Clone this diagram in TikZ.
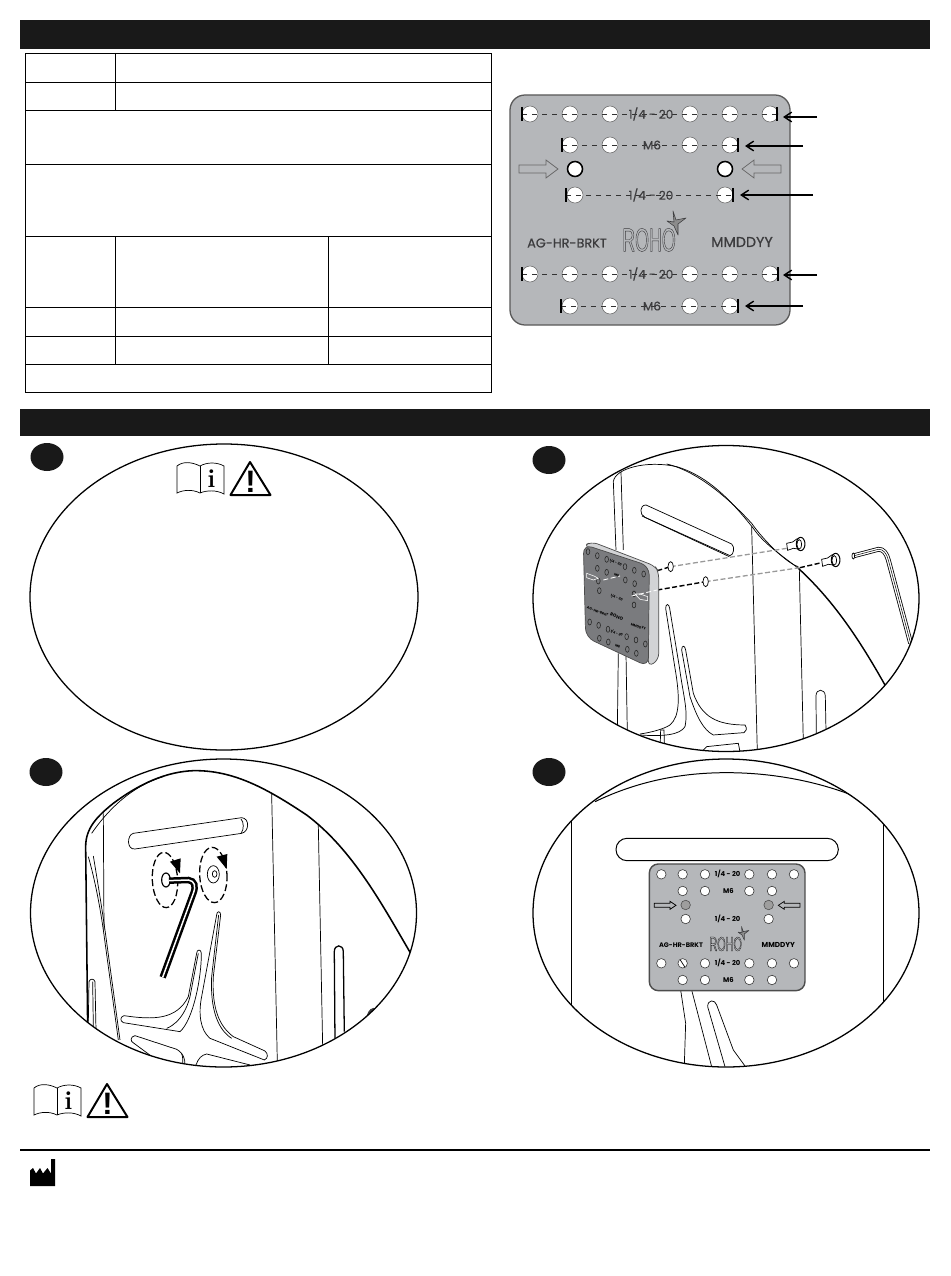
\documentclass[tikz,border=0pt]{standalone}
\usepackage{fontspec}
\usepackage{xcolor}
\usetikzlibrary{arrows.meta,calc,positioning}
\newfontfamily\platefont{Poppins}
\newfontfamily\platemid[FakeBold=0.6]{Poppins}
\newfontfamily\signfont{Liberation Sans}
\newfontfamily\rohofont[FakeStretch=0.54]{Liberation Sans}
\newcommand{\rohotext}[2]{{\rohofont\fontsize{#1}{#1}\selectfont\special{pdf:code q 1 Tr #2 w}ROHO\special{pdf:code 0 Tr Q}}}
\definecolor{plategrey}{HTML}{B5B7BA}
\definecolor{platedark}{HTML}{7A7B7E}
\definecolor{plateside}{HTML}{D2D3D5}
\definecolor{inkgrey}{HTML}{3C3C3E}
\tikzset{>=latex}
\tikzset{
  headbar/.style={fill=black!90},
  badge/.style={fill=black!90},
  cutout/.style={line width=0.45mm},
  thinline/.style={line width=0.25mm},
  hole/.style={circle,draw=black!60,fill=white,line width=0.2mm,inner sep=0pt,minimum size=#1},
  platearrow/.style={-{Straight Barb[length=2.6mm,width=3.4mm]},line width=0.5mm},
  dimline/.style={dash pattern=on 5pt off 5pt,line width=0.25mm,black!80},
  zoomed/.style={x=0.3333pt,y=-0.3333pt},
  pics/rohostar/.style={code={
    \draw[draw=inkgrey,fill=black!45,line width=0.2mm,line join=round] (-2,-12) -- (1,-3) -- (11,-5) -- (3,1) -- (3,12) -- (-1,3) -- (-8,-2) -- (-1,-1) -- cycle;
  }},
  pics/bookwarn/.style={code={
    \draw[line width=0.25mm] (0,5) .. controls (6,0) and (15,1) .. (23,5) .. controls (30,1) and (40,1) .. (47,5)
      -- (47,33) .. controls (40,29) and (30,29) .. (23,32) .. controls (15,28) and (6,29) .. (0,32) -- cycle;
    \draw[line width=0.25mm] (23,5) -- (23,32);
    \node[font=\rmfamily\bfseries\fontsize{26}{26}\selectfont,inner sep=0pt] (#1i) at (34.5,17.5) {i};
    \draw[line width=0.7mm,line join=round] (73,1) -- (93.5,34) -- (53.5,34) -- cycle;
    \node[font=\signfont\bfseries\fontsize{31}{31}\selectfont,inner sep=0pt] (#1mark) at (73.5,21) {!};
  }}
}
\begin{document}
\begin{tikzpicture}[x=1pt,y=-1pt]
\useasboundingbox[fill=white] (0,0) rectangle (950,1276);

\fill[headbar] (20,20) rectangle (930,49);
\fill[headbar] (20,409) rectangle (930,436);

% table
\draw[thinline] (25,53) rectangle (491,392);
\foreach \yy in {82,110,164,236,307,336,364}
  \draw[thinline] (25,\yy) -- (491,\yy);
\draw[thinline] (115,53) -- (115,110);
\draw[thinline] (115,236) -- (115,364);
\draw[thinline] (328,236) -- (328,364);

% plate
\draw[fill=plategrey,draw=black!65,line width=0.45mm,rounded corners=15pt] (510,95) rectangle (790,325);
\foreach \row/\yy/\list in {a/114/{530,570,610,690,730,770},b/145/{570,610,690,730},c/195/{575,725},d/274/{530,570,610,690,730,770},e/306/{570,610,690,730}}
  \foreach \xx in \list
    \node[hole=16pt] (hole\row\xx) at (\xx,\yy) {};
\node[hole=15pt,draw=black,line width=0.55mm] (pinL) at (575,169) {};
\node[hole=15pt,draw=black,line width=0.55mm] (pinR) at (725,169) {};
\foreach \row/\xa/\xb/\yy/\tailx/\tipx/\ya in {a/522/777/114/817/783/117,b/562/738/145/803/745/146,c/566/733/195/813/740/195,d/522/778/274/817/783/275,e/561/738/306/803/745/306}{
  \coordinate (start\row) at (\xa,\yy);
  \coordinate (stop\row) at (\xb,\yy);
  \draw[dimline] (start\row) -- (stop\row);
  \draw[line width=0.45mm] ($(start\row)+(0,-7)$) -- ($(start\row)+(0,7)$);
  \draw[line width=0.45mm] ($(stop\row)+(0,-7)$) -- ($(stop\row)+(0,7)$);
  \coordinate (tail\row) at (\tailx,\ya);
  \coordinate (tip\row) at (\tipx,\ya);
  \draw[platearrow] (tail\row) -- (tip\row);
}
\node[font=\platemid\fontsize{12}{12}\selectfont,text=inkgrey,inner sep=0pt] (labela) at (651,114) {1/4 - 20};
\node[font=\platemid\fontsize{12}{12}\selectfont,text=inkgrey,inner sep=0pt] (labelb) at (652,145) {M6};
\node[font=\platemid\fontsize{12}{12}\selectfont,text=inkgrey,inner sep=0pt] (labelc) at (651,195) {1/4 - 20};
\node[font=\platemid\fontsize{12}{12}\selectfont,text=inkgrey,inner sep=0pt] (labeld) at (651,274) {1/4 - 20};
\node[font=\platemid\fontsize{12}{12}\selectfont,text=inkgrey,inner sep=0pt] (labele) at (652,306) {M6};
\node[font=\platemid\fontsize{12.8}{13}\selectfont,text=inkgrey,inner sep=0pt] (partno) at (567,243) {AG-HR-BRKT};
\node[font=\platemid\fontsize{14.3}{14}\selectfont,text=inkgrey,inner sep=0pt] (datecode) at (742,242) {MMDDYY};
\node[text=inkgrey,inner sep=0pt] (logo) at (649,240) {\rohotext{33}{0.4}};
\pic at (675,223) {rohostar};
\draw[draw=black!60,fill=plategrey,line width=0.25mm] (519,165) -- (546,165) -- (546,160) -- (558,169) -- (546,178) -- (546,173) -- (519,173) -- cycle;
\draw[draw=black!60,fill=plategrey,line width=0.25mm] (781,165) -- (754,165) -- (754,160) -- (742,169) -- (754,178) -- (754,173) -- (781,173) -- cycle;

% step badges
\foreach \name/\xx/\yy in {one/47/457,two/549/460,three/46/772,four/549/772}
  \fill[badge] (\xx,\yy) ellipse [x radius=16.5,y radius=14];

% step 1
\draw[cutout] (224,597) ellipse [x radius=194,y radius=153];
\pic at (177,461) {bookwarn=top};

% step 2
\begin{scope}
\clip (726,598.5) ellipse [x radius=193,y radius=153];
\begin{scope}[shift={(520,440)},zoomed]
\draw[thinline] (292,870) -- (295,640);
\draw[thinline] (280,125) -- (288,330);
\draw[thinline] (303,95) -- (310,330);
\draw[thinline] (318,640) -- (322,880);
\draw[thinline] (280,125) .. controls (285,85) and (380,60) .. (470,80) .. controls (570,110) and (640,190) .. (700,265) .. controls (730,310) and (790,350) .. (835,385);
\draw[thinline] (440,72) .. controls (540,95) and (640,190) .. (695,250) .. controls (730,300) and (800,370) .. (835,380);
\draw[line width=0.5mm] (835,385) .. controls (950,490) and (1030,620) .. (1095,735);
\draw[thinline] (695,260) -- (712,935);
\draw[thinline] (838,385) -- (850,905);
\draw[thinline] (889,880) -- (888,768) .. controls (888,745) and (915,745) .. (916,768) -- (918,870);
\draw[thinline] (378,195) -- (635,312) .. controls (645,320) and (642,345) .. (630,347) -- (375,232) .. controls (358,225) and (358,195) .. (378,195);
\draw[thinline] (366,228) -- (628,350);
\draw[thinline] (437,505) .. controls (437,490) and (447,490) .. (449,505) -- (478,680) .. controls (490,770) and (505,810) .. (495,860) .. controls (480,885) and (430,890) .. (360,885);
\draw[thinline] (437,505) -- (465,685) .. controls (480,770) and (480,830) .. (450,855) .. controls (430,868) and (390,878) .. (360,882);
\draw[thinline] (485,630) .. controls (485,615) and (495,615) .. (497,630) -- (520,760) .. controls (545,830) and (590,855) .. (675,855) .. controls (682,865) and (680,875) .. (672,878) -- (580,885) .. controls (550,870) and (530,830) .. (510,770) -- cycle;
\draw[thinline] (420,935) -- (422,870) -- (432,870) -- (434,935);
\draw[thinline] (545,935) -- (560,920) -- (655,910) -- (660,935);
\draw[line width=0.8pt,double,double distance=3.2pt] (1003,347) -- (1075,328) .. controls (1090,327) and (1100,340) .. (1105,360) -- (1172,610);
\draw[line width=0.5pt] (1003,347) -- (1075,328) .. controls (1090,327) and (1100,340) .. (1105,360) -- (1172,610);
\draw[thinline,fill=white] (1000,348) ellipse [x radius=4,y radius=9];
\coordinate (holeU) at (452,380);
\coordinate (holeL) at (557,425);
\coordinate (screwU) at (800,325);
\coordinate (screwL) at (905,368);
\draw[black!40,line width=0.45mm,dash pattern=on 5pt off 2.5pt] (holeU) -- (screwU);
\draw[black!40,line width=0.45mm,dash pattern=on 5pt off 2.5pt] (holeL) -- (840,383);
\draw[line width=0.5mm,dash pattern=on 5pt off 2.5pt] (412,392) -- (holeU);
\draw[line width=0.5mm,dash pattern=on 5pt off 2.5pt] (412,450) -- (holeL);
\draw[line width=0.5mm,dash pattern=on 5pt off 2.5pt] (840,383) -- (screwL);
\draw[thinline,fill=white] (holeU) ellipse [x radius=8,y radius=15];
\draw[thinline,fill=white] (holeL) ellipse [x radius=8,y radius=15];
\foreach \dx/\dy in {0/0,105/48}{
  \draw[thinline,fill=white] (\dx+800,\dy+310) -- (\dx+818,\dy+306) .. controls (\dx+825,\dy+303) and (\dx+826,\dy+298) .. (\dx+832,\dy+296) -- (\dx+838,\dy+328) .. controls (\dx+830,\dy+327) and (\dx+826,\dy+325) .. (\dx+820,\dy+325) -- (\dx+803,\dy+331) -- cycle;
  \draw[line width=0.35mm,fill=white] (\dx+842,\dy+312) ellipse [x radius=13,y radius=20];
  \draw[thinline,fill=white] (\dx+838,\dy+313) ellipse [x radius=7,y radius=14];
}
\draw[fill=plateside,draw=black!70,thinline,rounded corners=6pt] (215,305) -- (405,378) -- (416,395) -- (416,660) -- (385,680) -- (385,380) -- (190,318) -- cycle;
\draw[fill=platedark,draw=black!70,thinline,rounded corners=9pt] (190,313) -- (388,378) -- (385,680) -- (197,592) -- cycle;
\foreach \xx/\yy in {204/335,232/347,260/358,315/380,343/391,371/402,232/385,260/397,316/420,344/431,235/423,342/462,238/452,342/495,209/546,236/556,264/568,320/590,348/600,376/612,238/595,265/606,322/628,349/640}
  \draw[draw=black!85,line width=0.2mm,fill=platedark] (\xx,\yy) ellipse [x radius=5.5,y radius=9];
\draw[draw=white,line width=0.3mm,dash pattern=on 5pt off 2.5pt] (250,420) -- (300,408);
\draw[draw=white,line width=0.3mm,dash pattern=on 5pt off 2.5pt] (335,468) -- (412,450);
\draw[draw=white,line width=0.2mm] (200,400) -- (222,408) -- (235,415) -- (220,420) -- (200,413) -- cycle;
\draw[draw=white,line width=0.2mm] (383,470) -- (360,462) -- (345,462) -- (360,478) -- (383,482) -- cycle;
\foreach \xx/\yy/\txt in {287/368/{1/4 - 20},290/405/M6,290/473/{1/4 - 20},233/515/AG-HR-BRKT,355/560/MMDDYY,290/580/{1/4 - 20},293/620/M6}
  \node[font=\platefont\bfseries\fontsize{3.4}{4}\selectfont,inner sep=0pt,rotate=-20] at (\xx,\yy) {\txt};
\node[font=\platefont\bfseries\fontsize{4.5}{4}\selectfont,inner sep=0pt,rotate=-20] (logoB) at (290,530) {ROHO};
\end{scope}
\end{scope}
\draw[cutout] (726,598.5) ellipse [x radius=193,y radius=153];

% step 3
\begin{scope}
\clip (223.5,913) ellipse [x radius=193,y radius=154];
\begin{scope}[shift={(20,750)},zoomed]
\draw[line width=0.55mm] (203,830) -- (197,290) .. controls (197,235) and (230,200) .. (280,160) .. controls (360,100) and (440,65) .. (520,62) .. controls (640,60) and (740,115) .. (860,195) .. controls (1000,300) and (1090,470) .. (1175,615);
\draw[thinline] (215,250) .. controls (260,185) and (330,110) .. (430,80);
\draw[thinline] (250,190) -- (252,540);
\draw[thinline] (205,320) .. controls (225,390) and (240,470) .. (250,540) -- (295,870);
\draw[thinline] (220,318) .. controls (232,390) and (245,470) .. (255,540) -- (300,870);
\draw[thinline] (755,130) -- (772,935);
\draw[thinline] (895,225) -- (908,885);
\draw[line width=0.45mm] (945,865) -- (943,605) .. controls (943,582) and (970,582) .. (970,605) -- (973,845);
\draw[thinline] (205,815) -- (207,695) .. controls (210,685) and (222,685) .. (225,695) -- (228,840);
\draw[thinline] (218,695) -- (220,830);
\draw[thinline] (345,297) -- (665,250) .. controls (688,245) and (690,205) .. (665,203) -- (340,250) .. controls (320,255) and (320,300) .. (345,297);
\draw[thinline] (663,207) .. controls (672,215) and (672,240) .. (664,248);
\draw[thinline] (590,495) .. controls (590,482) and (602,482) .. (602,495) -- (580,680) .. controls (575,780) and (600,830) .. (640,860) -- (735,903) .. controls (745,912) and (745,925) .. (733,930) -- (570,865) .. controls (540,840) and (535,790) .. (545,740) -- cycle;
\draw[thinline] (596,495) -- (575,680) .. controls (570,780) and (595,840) .. (635,865);
\draw[thinline] (530,610) .. controls (530,597) and (544,597) .. (544,610) .. controls (545,680) and (520,810) .. (480,845) -- (310,818) .. controls (298,812) and (302,800) .. (312,797) .. controls (400,810) and (470,810) .. (505,740) -- cycle;
\draw[thinline] (535,610) -- (510,740) .. controls (490,820) and (440,835) .. (440,835);
\draw[thinline] (345,857) -- (470,898) .. controls (490,910) and (495,925) .. (495,945);
\draw[thinline] (345,857) .. controls (330,860) and (330,875) .. (342,880) -- (430,945);
\draw[thinline] (485,910) .. controls (490,925) and (488,935) .. (488,945);
\draw[thinline] (528,945) .. controls (535,925) and (545,915) .. (560,912) -- (690,945);
\fill[inkgrey] (1040,798) .. controls (1045,780) and (1055,770) .. (1070,775) -- (1075,785) -- cycle;
\draw[line width=0.45mm,dash pattern=on 7pt off 3pt] (435,390) ellipse [x radius=38,y radius=83,rotate=3];
\draw[line width=0.45mm,dash pattern=on 7pt off 3pt] (580,375) ellipse [x radius=41,y radius=83,rotate=3];
\coordinate (turnA) at (480,370);
\coordinate (turnB) at (620,357);
\fill (450,335) -- (482,325) -- (turnA) -- cycle;
\fill (590,320) -- (622,312) -- (turnB) -- cycle;
\draw[line width=0.4mm,fill=white] (438,390) ellipse [x radius=13,y radius=21];
\draw[line width=2.5pt,double,double distance=1.5pt] (447,392) -- (505,390) .. controls (525,392) and (528,410) .. (520,430) -- (428,682);
\draw[thinline,fill=white] (580,373) ellipse [x radius=18,y radius=26];
\draw[thinline,fill=white] (584,372) ellipse [x radius=7,y radius=10];
\end{scope}
\end{scope}
\draw[cutout] (223.5,913) ellipse [x radius=193,y radius=154];

% step 4
\begin{scope}
\clip (726,913) ellipse [x radius=193,y radius=154];
\begin{scope}[shift={(520,750)},zoomed]
\draw[line width=0.35mm] (225,155) .. controls (350,95) and (480,68) .. (620,68) .. controls (760,68) and (900,95) .. (1020,145);
\draw[thinline] (155,200) -- (155,780);
\draw[thinline] (1090,200) -- (1090,780);
\draw[line width=0.35mm,rounded corners=11pt] (288,265) rectangle (955,332);
\draw[thinline] (482,720) -- (497,820) -- (493,945);
\draw[thinline] (515,720) -- (575,950);
\draw[thinline] (563,770) .. controls (563,748) and (585,748) .. (590,765) -- (640,900) -- (675,948);
\draw[thinline] (563,770) -- (615,950);
\draw[draw=black!70,fill=plategrey,line width=0.5mm,rounded corners=9pt] (388,342) rectangle (855,722);
\foreach \row/\yy/\list in {a/373/{424,488,555,688,756,822},b/423/{488,555,688,756},c/507/{497,746},d/640/{424,488,555,688,756,822},e/690/{488,555,688,756}}
  \foreach \xx in \list
    \node[hole=9.5pt,draw=black!80] (mount\row\xx) at (\xx,\yy) {};
\draw[thinline] (481,630) -- (495,652);
\node[hole=9.5pt,draw=black!70,fill=black!38] (pinC) at (497,465) {};
\node[hole=9.5pt,draw=black!70,fill=black!38] (pinD) at (746,465) {};
\foreach \nm/\xx/\yy/\txt in {a/623/373/{1/4 - 20},b/625/423/M6,c/623/507/{1/4 - 20},d/623/640/{1/4 - 20},e/625/690/M6}
  \node[font=\platefont\bfseries\fontsize{6.8}{8}\selectfont,inner sep=0pt] (mark\nm) at (\xx,\yy) {\txt};
\node[font=\platefont\bfseries\fontsize{6.6}{8}\selectfont,inner sep=0pt] (partnoB) at (483,585) {AG-HR-BRKT};
\node[font=\platefont\bfseries\fontsize{7.2}{8}\selectfont,inner sep=0pt] (datecodeB) at (775,585) {MMDDYY};
\node[inner sep=0pt] (logoC) at (617,582) {\rohotext{20}{0.25}};
\pic[scale=1.7] at (668,550) {rohostar};
\draw[thinline,fill=plategrey] (403,460) -- (450,460) -- (450,454) -- (468,466) -- (450,478) -- (450,472) -- (403,472) -- cycle;
\draw[thinline,fill=plategrey] (840,460) -- (793,460) -- (793,454) -- (775,466) -- (793,478) -- (793,472) -- (840,472) -- cycle;
\end{scope}
\end{scope}
\draw[cutout] (726,913) ellipse [x radius=193,y radius=154];

\pic at (34,1083) {bookwarn=low};

% footer
\draw[line width=0.55mm] (20,1150) -- (930,1150);
\fill (30,1186) -- (30,1170.5) -- (33,1168) -- (36,1173.5) -- (40,1168) -- (43,1173.5) -- (47.5,1168) -- (51,1173.5) -- (51,1159) -- (55,1159) -- (55,1186) -- cycle;
\end{tikzpicture}
\end{document}
